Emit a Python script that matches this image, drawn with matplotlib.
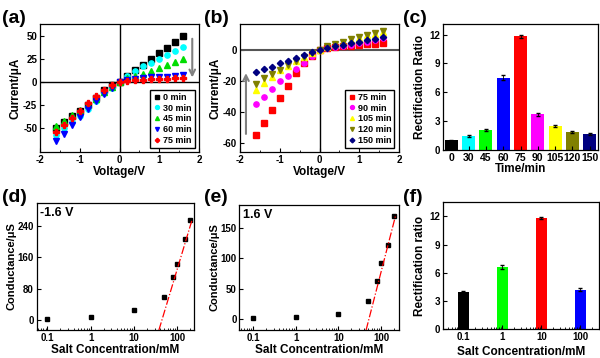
import matplotlib
matplotlib.use("Agg")
import matplotlib.pyplot as plt
import numpy as np

plt.rcParams['font.family'] = ['Liberation Sans', 'DejaVu Sans']
plt.rcParams['font.weight'] = 'bold'
plt.rcParams['axes.labelweight'] = 'bold'
plt.rcParams['axes.unicode_minus'] = False

# ---- data ----
volts = [-1.6, -1.4, -1.2, -1.0, -0.8, -0.6, -0.4, -0.2, 0.0,
         0.2, 0.4, 0.6, 0.8, 1.0, 1.2, 1.4, 1.6]

a_labels = ['0 min', '30 min', '45 min', '60 min', '75 min']
a_0 = [-50, -43, -37, -31, -24.5, -17, -9, -3, 0, 6.5, 12.6, 19, 25, 32, 37, 43.7, 50]
a_30 = [-57, -50, -43, -37, -29, -21, -12, -6, 0, 6.5, 11.5, 17, 21, 25, 29, 33.5, 38]
a_45 = [-48, -42, -36, -30, -24, -18, -11, -5, 0, 4, 6.5, 9, 12, 15, 18, 22, 25]
a_60 = [-64, -56, -47, -38, -29, -21, -13, -6.5, 0, 2, 3.5, 4, 5, 5.5, 6, 7, 8]
a_75 = [-54, -47, -39, -31, -23, -15, -9, -3, 0, 1.5, 2, 2.3, 3, 3.3, 3.5, 4, 4.5]

b_labels = ['75 min', '90 min', '105 min', '120 min', '150 min']
b_75 = [-54.6, -47.4, -39, -31, -23, -14.8, -8.3, -3.5, 0, 1.5, 2, 2.5, 3, 3.5, 4, 4.2, 4.5]
b_90 = [-34.7, -30, -25.3, -20, -16.8, -12.4, -8.3, -3.5, 0, 1.5, 2.3, 3, 3.7, 4.5, 5.5, 6.5, 8]
b_105 = [-25.5, -21.5, -17.5, -13, -10, -7, -4.5, -2, 0, 2.3, 3.8, 5.2, 6.7, 8.2, 9.6, 10.8, 12]
b_120 = [-21.8, -18.3, -15.5, -12.7, -9.6, -6.8, -4.4, -1.7, 0, 2.5, 4, 5.5, 7, 8.5, 10, 11, 12.5]
b_150 = [-13.8, -12.2, -10.7, -8.5, -6.8, -4.8, -3, -1.3, 0, 1.5, 2.5, 3.5, 4.5, 5.5, 6.5, 7.5, 8.5]

c_times = ['0', '30', '45', '60', '75', '90', '105', '120', '150']
c_ratio = [1.0, 1.5, 2.1, 7.5, 11.8, 3.7, 2.5, 1.85, 1.65]
c_err = [0.05, 0.1, 0.1, 0.25, 0.15, 0.12, 0.12, 0.1, 0.08]
c_colors = ['black', 'cyan', '#00ff00', 'blue', 'red', 'magenta', 'yellow', '#808000', '#000080']

conc = [0.1, 1, 10, 50, 80, 100, 150, 200]
d_G = [2.5, 9, 25.5, 60, 111, 144, 206, 255]
e_G = [1.7, 3.3, 7.8, 29, 62, 92, 122, 171]
d_fit = (365, -601)   # G = slope*log10(c) + intercept
e_fit = (274, -471)

f_conc = [0.1, 1, 10, 100]
f_ratio = [3.9, 6.6, 11.8, 4.2]
f_err = [0.15, 0.2, 0.1, 0.2]
f_colors = ['black', '#00ff00', 'red', 'blue']

# ---- figure ----
fig = plt.figure(figsize=(6, 3.58), dpi=100)

def style(ax):
    ax.tick_params(direction='in', labelsize=7, length=3, width=0.8, pad=2)
    ax.tick_params(which='minor', direction='in', length=1.5, width=0.6)
    for s in ax.spines.values():
        s.set_linewidth(0.9)

mk = dict(ls='none', ms=3.8)
leg_kw = dict(loc='lower right', fontsize=6.5, handletextpad=0.2, borderpad=0.3,
              labelspacing=0.2, fancybox=False, edgecolor='black', framealpha=1,
              handlelength=1, markerscale=0.75)

# (a)
ax = fig.add_axes([0.0667, 0.575, 0.265, 0.358])
ax.axhline(0, color='black', lw=1)
ax.axvline(0, color='black', lw=1)
ax.plot(volts, a_0, 's', color='black', label=a_labels[0], **mk)
ax.plot(volts, a_30, 'o', color='cyan', label=a_labels[1], **mk)
ax.plot(volts, a_45, '^', color='#00dd00', label=a_labels[2], **mk)
ax.plot(volts, a_60, 'v', color='blue', label=a_labels[3], **mk)
ax.plot(volts, a_75, 'P', color='red', label=a_labels[4], **mk)
ax.annotate('', xy=(1.83, 2), xytext=(1.83, 50),
            arrowprops=dict(arrowstyle='->', color='gray', lw=1.5))
ax.set_xlim(-2, 2)
ax.set_ylim(-76, 63)
ax.set_xticks([-2, -1, 0, 1, 2])
ax.set_xticks([-1.5, -0.5, 0.5, 1.5], minor=True)
ax.set_yticks([-50, -25, 0, 25, 50])
ax.set_xlabel('Voltage/V', fontsize=8.5, labelpad=1)
ax.set_ylabel('Current/\u03bcA', fontsize=8.5, labelpad=1)
ax.legend(**leg_kw)
style(ax)
fig.text(0.003, 0.935, '(a)', fontsize=14, weight='bold')

# (b)
ax = fig.add_axes([0.4, 0.575, 0.265, 0.358])
ax.axhline(0, color='#555555', lw=1.5)
ax.axvline(0, color='black', lw=1)
ax.plot(volts, b_75, 's', color='red', label=b_labels[0], **mk)
ax.plot(volts, b_90, 'o', color='magenta', label=b_labels[1], **mk)
ax.plot(volts, b_105, '^', color='yellow', label=b_labels[2], **mk)
ax.plot(volts, b_120, 'v', color='#808000', label=b_labels[3], **mk)
ax.plot(volts, b_150, 'D', color='#000080', label=b_labels[4], ls='none', ms=3.2)
ax.annotate('', xy=(-1.85, -13), xytext=(-1.85, -56),
            arrowprops=dict(arrowstyle='->', color='gray', lw=1.5))
ax.set_xlim(-2, 2)
ax.set_ylim(-66, 17)
ax.set_xticks([-2, -1, 0, 1, 2])
ax.set_xticks([-1.5, -0.5, 0.5, 1.5], minor=True)
ax.set_yticks([-60, -40, -20, 0])
ax.set_xlabel('Voltage/V', fontsize=8.5, labelpad=1)
ax.set_ylabel('Current/\u03bcA', fontsize=8.5, labelpad=1)
ax.legend(**leg_kw)
style(ax)
fig.text(0.34, 0.935, '(b)', fontsize=14, weight='bold')

# (c)
ax = fig.add_axes([0.738, 0.581, 0.259, 0.352])
xs = np.arange(len(c_times))
ax.bar(xs, c_ratio, width=0.75, color=c_colors, yerr=c_err,
       error_kw=dict(ecolor='black', elinewidth=0.6, capsize=1.2))
ax.set_xticks(xs)
ax.set_xticklabels(c_times)
ax.set_xlim(-0.5, len(c_times) - 0.5)
ax.set_ylim(0, 13.1)
ax.set_yticks([0, 3, 6, 9, 12])
ax.set_xlabel('Time/min', fontsize=8.5, labelpad=0)
ax.set_ylabel('Rectification Ratio', fontsize=8.5, labelpad=2)
style(ax)
ax.tick_params(axis='x', labelsize=7.5, pad=2)
fig.text(0.672, 0.935, '(c)', fontsize=14, weight='bold')

# (d), (e)
def cond_panel(rect, G, fit, xlim, ylim, yticks, vtxt, lab, labx):
    ax = fig.add_axes(rect)
    ax.set_xscale('log')
    ax.plot(conc, G, 's', color='black', ls='none', ms=3.5)
    lc = np.array([10 ** ((ylim[0] - fit[1]) / fit[0]), conc[-1] * 1.12])
    ax.plot(lc, fit[0] * np.log10(lc) + fit[1], color='red', ls='-.', lw=0.9)
    ax.set_xlim(*xlim)
    ax.set_ylim(*ylim)
    ax.set_xticks([0.1, 1, 10, 100])
    ax.set_xticklabels(['0.1', '1', '10', '100'])
    ax.set_yticks(yticks)
    ax.text(0.02, 0.97, vtxt, transform=ax.transAxes, ha='left', va='top',
            fontsize=9, weight='bold')
    style(ax)
    ax.set_xlabel('Salt Concentration/mM', fontsize=8.5, labelpad=1)
    ax.set_ylabel('Conductance/\u03bcS', fontsize=8, labelpad=1)
    fig.text(labx, 0.435, lab, fontsize=14, weight='bold')
    return ax

cond_panel([0.061, 0.078, 0.262, 0.355], d_G, d_fit, (0.056, 243), (-25, 298),
           [0, 80, 160, 240], '-1.6 V', '(d)', 0.003)
cond_panel([0.399, 0.078, 0.266, 0.35], e_G, e_fit, (0.047, 265), (-19, 189),
           [0, 50, 100, 150], '1.6 V', '(e)', 0.34)

# (f)
ax = fig.add_axes([0.738, 0.081, 0.26, 0.355])
ax.set_xscale('log')
fc = np.array(f_conc)
hw = 0.135
left = fc * 10 ** (-hw)
width = fc * 10 ** hw - left
ax.bar(left, f_ratio, width=width, align='edge', color=f_colors)
ax.errorbar(fc, f_ratio, yerr=f_err, ls='none', ecolor='black',
            elinewidth=0.6, capsize=1.2)
ax.set_xlim(0.0295, 295)
ax.set_ylim(0, 13.55)
ax.set_xticks([0.1, 1, 10, 100])
ax.set_xticklabels(['0.1', '1', '10', '100'])
ax.set_yticks([0, 3, 6, 9, 12])
style(ax)
ax.set_xlabel('Salt Concentration/mM', fontsize=8.5, labelpad=3)
ax.set_ylabel('Rectification ratio', fontsize=8.5, labelpad=2)
fig.text(0.672, 0.435, '(f)', fontsize=14, weight='bold')

fig.savefig('out.png', dpi=100)
